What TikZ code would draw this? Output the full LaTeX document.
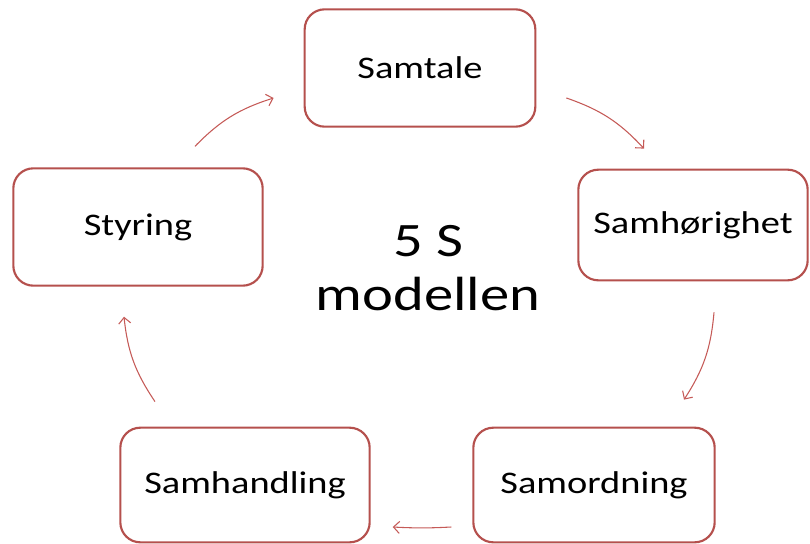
\documentclass[tikz,border=0pt]{standalone}
\usepackage{fontspec}
\setmainfont{Carlito}[FakeStretch=1.22]
\usepackage{xcolor}
\usepackage{tikz}
\usetikzlibrary{arrows.meta,positioning,shapes}
\definecolor{boxred}{HTML}{B5504D}
\definecolor{arrred}{HTML}{C55A57}

\begin{document}
\begin{tikzpicture}[x=0.75pt,y=-0.75pt,>={Straight Barb[length=4.5pt,width=9pt]},
  stage/.style={draw=boxred,line width=1.6pt,rounded corners=15pt,fill=white,font=\fontsize{23.6}{28}\selectfont},
  flow/.style={->,draw=arrred,line width=0.8pt}]
\useasboundingbox (0,0) rectangle (810,543);
\node[stage,minimum width=173pt,minimum height=88pt] (samtale) at (420,68) {Samtale};
\node[stage,minimum width=172pt,minimum height=83pt] (samhor) at (693,225) {Samhørighet};
\node[stage,minimum width=181pt,minimum height=86pt] (samord) at (594,485) {Samordning};
\node[stage,minimum width=187pt,minimum height=86pt] (samhand) at (245,485) {Samhandling};
\node[stage,minimum width=187pt,minimum height=88pt] (styring) at (138,227) {Styring};
\node[align=center,font=\fontsize{36}{40}\selectfont] (midt) at (428,268) {5 S\\modellen};
\draw[flow] ([shift={(57,-21)}]styring.north) to[bend left=14] ([shift={(-30,30)}]samtale.west);
\draw[flow] ([shift={(30,30)}]samtale.east) to[bend left=14] ([shift={(-49,-20)}]samhor.north);
\draw[flow] ([shift={(21,31)}]samhor.south) to[bend left=14] ([shift={(90,-27)}]samord.north);
\draw[flow] ([shift={(-21,42)}]samord.west) to[bend left=3] ([shift={(22,42)}]samhand.east);
\draw[flow] ([shift={(-90,-25)}]samhand.north) to[bend left=14] ([shift={(-14,30)}]styring.south);
\end{tikzpicture}
\end{document}
